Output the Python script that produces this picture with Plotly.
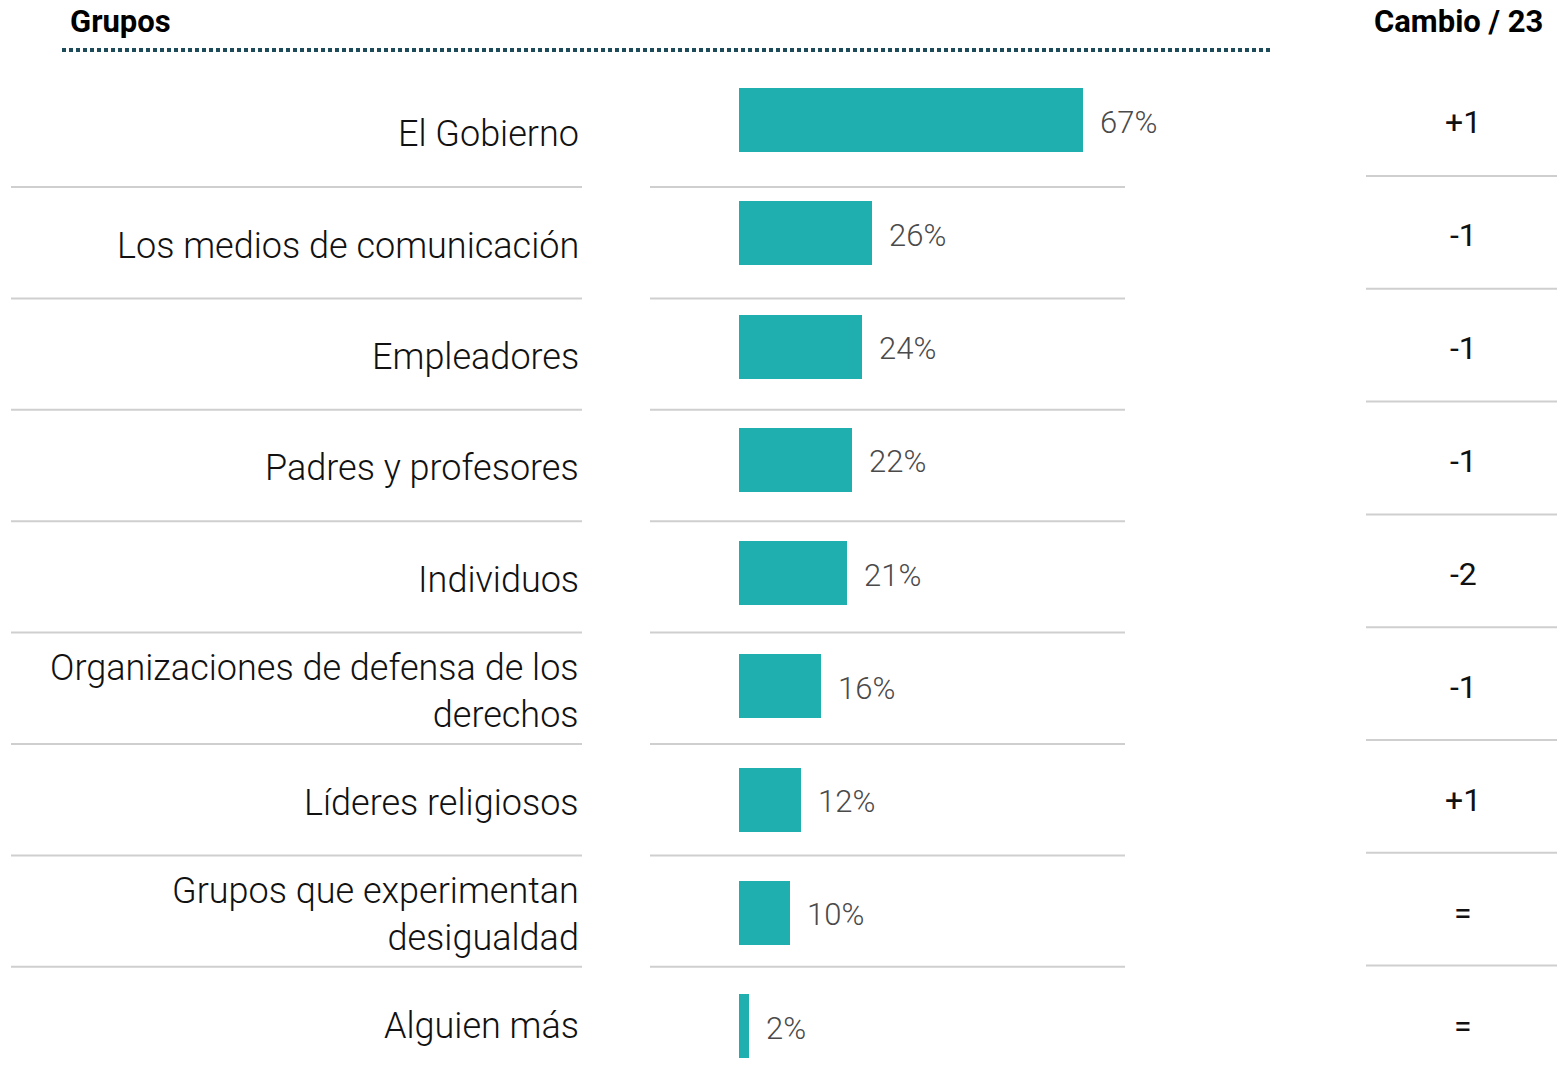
import plotly.graph_objects as go

categories = [
    "El Gobierno",
    "Los medios de comunicación",
    "Empleadores",
    "Padres y profesores",
    "Individuos",
    "Organizaciones de defensa de los<br>derechos",
    "Líderes religiosos",
    "Grupos que experimentan<br>desigualdad",
    "Alguien más",
]
values = [67, 26, 24, 22, 21, 16, 12, 10, 2]
changes = ["+1", "-1", "-1", "-1", "-2", "-1", "+1", "=", "="]
header_left = "Grupos"
header_right = "Cambio / 23"

W, H = 1557, 1077
BAR = "#1FAFAE"
SEP = "#CFCFCF"

def px(x):
    return x / W

def py(y):
    return 1 - y / H

n = len(categories)
idx = list(range(n))
row0, step = 120, 113.25

fig = go.Figure()
fig.add_trace(go.Bar(
    x=values, y=idx, orientation="h",
    marker=dict(color=BAR, line=dict(width=0)),
    width=64 / step,
    hoverinfo="skip",
))

annotations = []
shapes = []

# value labels
for i, v in enumerate(values):
    annotations.append(dict(
        x=v, y=i, xref="x", yref="y", text=f"{v}%", showarrow=False,
        xanchor="left", yanchor="middle", xshift=15, yshift=-2,
        font=dict(family="Roboto", size=31, color="#4a4a4a", weight=300),
    ))

# category labels
for i, c in enumerate(categories):
    yc = 134 + 111.5 * i
    annotations.append(dict(
        x=px(581), y=py(yc), xref="paper", yref="paper", text=c, showarrow=False,
        xanchor="right", yanchor="middle", align="right",
        font=dict(family="Roboto", size=36, color="#111111", weight=300),
    ))

# change values
for i, ch in enumerate(changes):
    yc = 122 + 113.0 * i
    annotations.append(dict(
        x=px(1463), y=py(yc), xref="paper", yref="paper", text=ch, showarrow=False,
        xanchor="center", yanchor="middle",
        font=dict(family="Roboto", size=32, color="#111111"),
    ))

# headers
annotations.append(dict(
    x=px(68), y=py(22), xref="paper", yref="paper", text=f"<b>{header_left}</b>",
    showarrow=False, xanchor="left", yanchor="middle",
    font=dict(family="Roboto", size=31, color="#000000"),
))
annotations.append(dict(
    x=px(1545), y=py(22), xref="paper", yref="paper", text=f"<b>{header_right}</b>",
    showarrow=False, xanchor="right", yanchor="middle",
    font=dict(family="Roboto", size=31, color="#000000"),
))

# dotted header line
shapes.append(dict(
    type="line", xref="paper", yref="paper",
    x0=px(62), x1=px(1273), y0=py(50), y1=py(50),
    line=dict(color="#1E4B5A", width=4, dash="4px,3px"),
))

# separators
for k in range(n - 1):
    yl = 187 + 111.4 * k
    shapes.append(dict(type="line", xref="paper", yref="paper",
                       x0=px(11), x1=px(582), y0=py(yl), y1=py(yl),
                       line=dict(color=SEP, width=2)))
    shapes.append(dict(type="line", xref="paper", yref="paper",
                       x0=px(650), x1=px(1125), y0=py(yl), y1=py(yl),
                       line=dict(color=SEP, width=2)))
    yr = 176 + 112.8 * k
    shapes.append(dict(type="line", xref="paper", yref="paper",
                       x0=px(1366), x1=px(1557), y0=py(yr), y1=py(yr),
                       line=dict(color=SEP, width=2)))

x_left, x_right = 739, 1273
xr = (x_right - x_left) / 5.134

fig.update_layout(
    width=W, height=H,
    margin=dict(l=0, r=0, t=0, b=0),
    paper_bgcolor="white", plot_bgcolor="white",
    showlegend=False,
    xaxis=dict(domain=[px(x_left), px(x_right)], range=[0, xr],
               visible=False, fixedrange=True),
    yaxis=dict(domain=[0, 1], range=[(H - row0) / step, -row0 / step],
               visible=False, fixedrange=True),
    annotations=annotations,
    shapes=shapes,
    bargap=0,
)

fig.write_html(
    "out.html",
    config={"displayModeBar": False},
    post_script="document.body.style.margin='0';document.body.style.overflow='hidden';",
)
